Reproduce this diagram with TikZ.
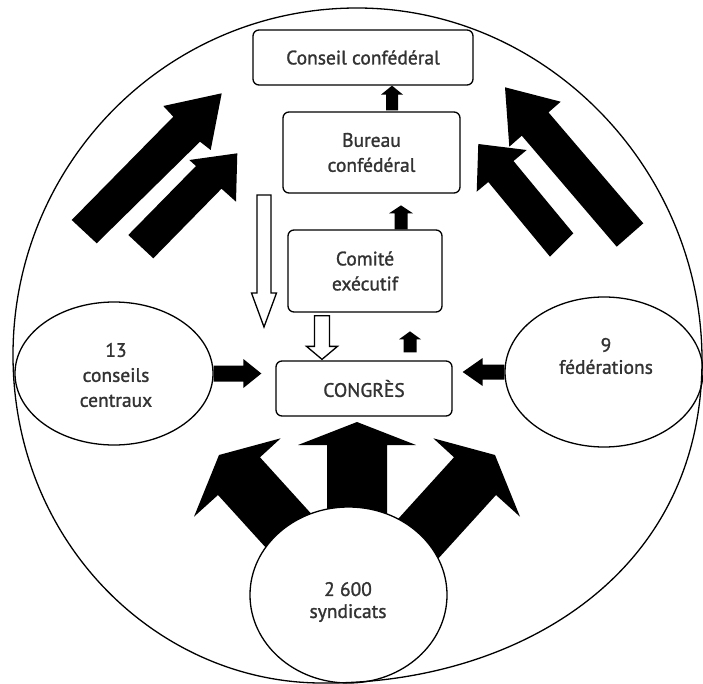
\documentclass[tikz,border=0pt]{standalone}
\usepackage{fontspec}
\setmainfont{PT Sans}
\newfontfamily\lblfont{PT Sans}[FakeBold=1.3]
\usetikzlibrary{calc,shapes.geometric}
\definecolor{txt}{HTML}{333333}
% #1 style, #2 tail, #3 tip, #4 shaft half width, #5 head half width, #6 head length
\newcommand\fatarrow[6]{%
  \coordinate (faHead) at ($(#3)!#6!(#2)$);
  \path[#1] ($(#2)!#4!90:(#3)$) -- ($(faHead)!#4!90:(#3)$) -- ($(faHead)!#5!90:(#3)$) -- (#3)
    -- ($(faHead)!#5!-90:(#3)$) -- ($(faHead)!#4!-90:(#3)$) -- ($(#2)!#4!-90:(#3)$) -- cycle;
}
\newcommand\lbl{\lblfont\fontsize{19.5}{25}\selectfont}
\newcommand\lbltight{\lblfont\fontsize{19.5}{22}\selectfont}
\begin{document}
\begin{tikzpicture}[x=1pt,y=-1pt,
  box/.style={draw, line width=1.3pt, rounded corners=6pt, inner sep=0pt, text=txt, font=\lbl, align=center},
  ell/.style={draw, ellipse, line width=1.3pt, fill=white, inner sep=0pt},
  lab/.style={text=txt, font=\lbl, align=center, inner sep=0pt},
  solidarr/.style={fill=black},
  hollowarr/.style={draw=black, fill=white, line width=1.3pt, line join=miter}]
\useasboundingbox (0,0) rectangle (703,684);
\fill[white] (0,0) rectangle (703,684);

% boxes
\node[box, minimum width=220pt, minimum height=55pt] (conseil) at (363,57.5) {Conseil confédéral};
\node[box, minimum width=177pt, minimum height=81pt] (bureau) at (371.5,152.5) {Bureau\\confédéral};
\node[box, minimum width=154pt, minimum height=82pt] (comite) at (365,271) {Comité\\exécutif};
\node[box, minimum width=176pt, minimum height=55pt] (congres) at (364,388.5) {CONGRÈS};

% big upper arrows
\fill (71.7,220) -- (173.3,116.7) -- (163.3,106) -- (221.7,93.3) -- (210.7,150) -- (200,141.7) -- (96.7,243.3) -- cycle;
\fill (128.3,235) -- (196,166) -- (189.3,160) -- (237.3,153.3) -- (236,201.7) -- (221.5,188.7) -- (153.3,258.3) -- cycle;
\fill (643.3,223.3) -- (548.5,112.4) -- (560.7,101.7) -- (505,87.3) -- (509.3,146.7) -- (521.8,135.7) -- (616.7,246.7) -- cycle;
\fill (573.3,233.3) -- (513.5,161) -- (526.7,150) -- (478.3,144) -- (476.7,191.7) -- (488.3,182) -- (550,256.7) -- cycle;

% bottom arrows
\fill (396.3,520.9) -- (454,457.3) -- (433.3,438.3) -- (495,455) -- (520,516.7) -- (496,495) -- (434.6,562.6) -- cycle;
\fill (317.7,520.9) -- (260,457.3) -- (280.7,438.3) -- (219,455) -- (194,516.7) -- (218,495) -- (279.4,562.6) -- cycle;
\coordinate (cT) at (357,515);
\coordinate (cH) at (357,422);
\fatarrow{solidarr}{cT}{cH}{30pt}{59pt}{23pt}

% ellipses
\node[ell, minimum width=198pt, minimum height=143pt] (cc) at (114,373.5) {};
\node[ell, minimum width=198pt, minimum height=150pt] (fed) at (604,372) {};
\node[ell, minimum width=197pt, minimum height=176pt] (synd) at (348.5,595) {};
\node[lab] (cctxt) at (116,375) {13\\conseils\\centraux};
\node[lab, font=\lbltight] (fedtxt) at (606,356) {9\\fédérations};
\node[lab, font=\lbltight] (syndtxt) at (348,602) {2 600\\syndicats};

% small solid arrows
\coordinate (a1t) at ($(bureau.north)+(20.5,-1)$);
\coordinate (a1h) at (a1t |- conseil.south);
\fatarrow{solidarr}{a1t}{a1h}{6pt}{11pt}{9pt}
\coordinate (a2t) at ($(comite.north)+(36,0)$);
\coordinate (a2h) at ($(a2t)+(0,-24)$);
\fatarrow{solidarr}{a2t}{a2h}{6.5pt}{12pt}{8pt}
\coordinate (a3t) at ($(congres.north)+(46,-8)$);
\coordinate (a3h) at ($(a3t)+(0,-21)$);
\fatarrow{solidarr}{a3t}{a3h}{6.5pt}{11pt}{8pt}

% side arrows into congres
\coordinate (lt) at (cc.east);
\coordinate (lh) at ($(congres.west)+(-14,-16)$);
\coordinate (lh2) at (lh |- lt);
\fatarrow{solidarr}{lt}{lh2}{8pt}{14.5pt}{18pt}
\coordinate (rt) at (fed.west);
\coordinate (rh) at ($(congres.east)+(10,0)$);
\coordinate (rh2) at (rh |- rt);
\fatarrow{solidarr}{rt}{rh2}{7.5pt}{14pt}{20pt}

% hollow arrows
\coordinate (h1t) at (264,195);
\coordinate (h1h) at (264,327);
\fatarrow{hollowarr}{h1t}{h1h}{7pt}{12.5pt}{34pt}
\coordinate (h2t) at ($(comite.south)+(-43,3)$);
\coordinate (h2h) at ($(congres.north)+(-42,-1)$);
\fatarrow{hollowarr}{h2t}{h2h}{7.5pt}{15.5pt}{13pt}

% outer shape
\draw[line width=1.3pt] (13,355) .. controls (13,163) and (167,8) .. (357,8)
  .. controls (547,8) and (702,170) .. (702,360)
  .. controls (702,580) and (510,684) .. (324,683)
  .. controls (160,684) and (13,545) .. (13,355) -- cycle;
\end{tikzpicture}
\end{document}
